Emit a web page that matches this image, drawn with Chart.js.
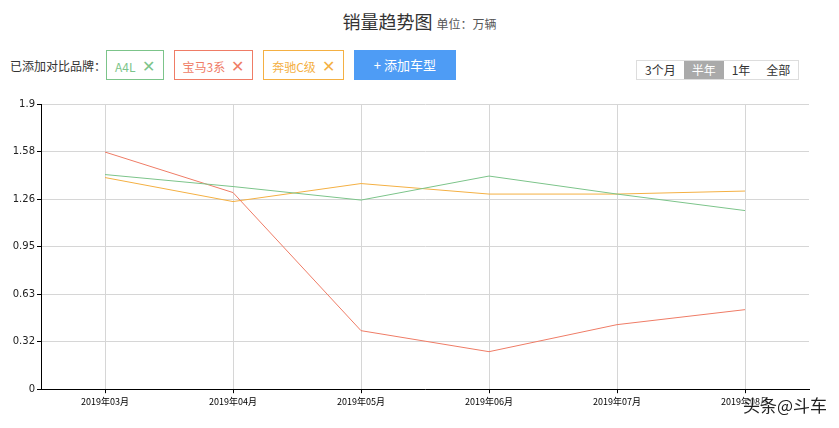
<!DOCTYPE html>
<html>
<head>
<meta charset="utf-8">
<script src="https://cdn.jsdelivr.net/npm/chart.js@4"></script>
<style>
	body { margin: 0; width: 839px; height: 428px; background: #fff; font-family: "Noto Sans CJK SC", sans-serif; position: relative; overflow: hidden; }
	.title { position: absolute; top: 8px; left: 0; width: 839px; text-align: center; font-size: 18px; color: #333; }
	.title span { font-size: 12px; color: #555; }
	.brands { position: absolute; top: 50px; left: 10px; font-size: 12px; color: #333; display: flex; align-items: center; }
	.tag { border: 1px solid; height: 30px; line-height: 28px; padding: 0 8px; margin-left: 10px; font-size: 12px; box-sizing: border-box; }
	.tag b { font-weight: normal; font-size: 16px; margin-left: 6px; }
	.add { margin-left: 10px; background: #4e9cf5; color: #fff; height: 30px; line-height: 30px; padding: 0 20px; font-size: 13px; }
	.range { position: absolute; top: 60px; left: 636px; display: flex; border: 1px solid #ddd; font-size: 12px; color: #333; }
	.range div { padding: 0 8px; height: 18px; line-height: 18px; }
	.range .on { background: #aaa; color: #fff; }
	#wrap { position: absolute; left: 0; top: 96px; width: 839px; height: 314px; }
	.mark { position: absolute; right: 12px; top: 392px; font-size: 17px; color: #222; text-shadow: 0 0 3px #fff, 0 0 3px #fff; }
</style>
</head>
<body>
<div class="title">销量趋势图 <span>单位：万辆</span></div>
<div class="brands">已添加对比品牌：
	<div class="tag" style="border-color:#7cc48a;color:#7cc48a;margin-left:0">A4L<b>✕</b></div>
	<div class="tag" style="border-color:#ef7c66;color:#ef7c66">宝马3系<b>✕</b></div>
	<div class="tag" style="border-color:#f4b043;color:#f4b043">奔驰C级<b>✕</b></div>
	<div class="add">+ 添加车型</div>
</div>
<div class="range"><div>3个月</div><div class="on">半年</div><div>1年</div><div>全部</div></div>
<div id="wrap"><canvas id="trend"></canvas></div>
<div class="mark">头条@斗车</div>
<script>
	var months = ['2019年03月', '2019年04月', '2019年05月', '2019年06月', '2019年07月', '2019年08月'];
	var a4l = [1.43, 1.35, 1.26, 1.42, 1.30, 1.19];
	var bmw3 = [1.58, 1.31, 0.39, 0.25, 0.43, 0.53];
	var benzC = [1.41, 1.25, 1.37, 1.30, 1.30, 1.32];
	var yTickValues = [0, 1.9 / 6, 1.9 / 3, 0.95, 1.9 * 2 / 3, 1.9 * 5 / 6, 1.9];
	var yTickLabels = ['0', '0.32', '0.63', '0.95', '1.26', '1.58', '1.9'];

	function line(data, color) {
		return { data: data, borderColor: color, borderWidth: 1, pointRadius: 0, tension: 0, fill: false };
	}

	new Chart(document.getElementById('trend'), {
		type: 'line',
		data: {
			labels: months,
			datasets: [line(a4l, '#7cc48a'), line(bmw3, '#ef7c66'), line(benzC, '#f4b043')]
		},
		options: {
			responsive: true,
			maintainAspectRatio: false,
			animation: false,
			layout: { padding: { left: 4, right: 30, top: 4, bottom: 0 } },
			plugins: { legend: { display: false }, tooltip: { enabled: false } },
			scales: {
				x: {
					offset: true,
					grid: { offset: false, color: '#d6d6d6', tickLength: 4, tickColor: '#000' },
					border: { color: '#000' },
					ticks: { color: '#000', font: { size: 9, family: 'Noto Sans CJK SC' }, maxRotation: 0 }
				},
				y: {
					min: 0, max: 1.9,
					afterBuildTicks: function (axis) { axis.ticks = yTickValues.map(function (v) { return { value: v }; }); },
					afterFit: function (axis) { axis.width = 37; },
					grid: { color: '#d6d6d6', tickLength: 4, tickColor: '#000' },
					border: { color: '#000' },
					ticks: {
						color: '#222', font: { size: 10, family: 'DejaVu Sans' }, padding: 2,
						callback: function (v, i) { return yTickLabels[i]; }
					}
				}
			}
		}
	});
</script>
</body>
</html>
